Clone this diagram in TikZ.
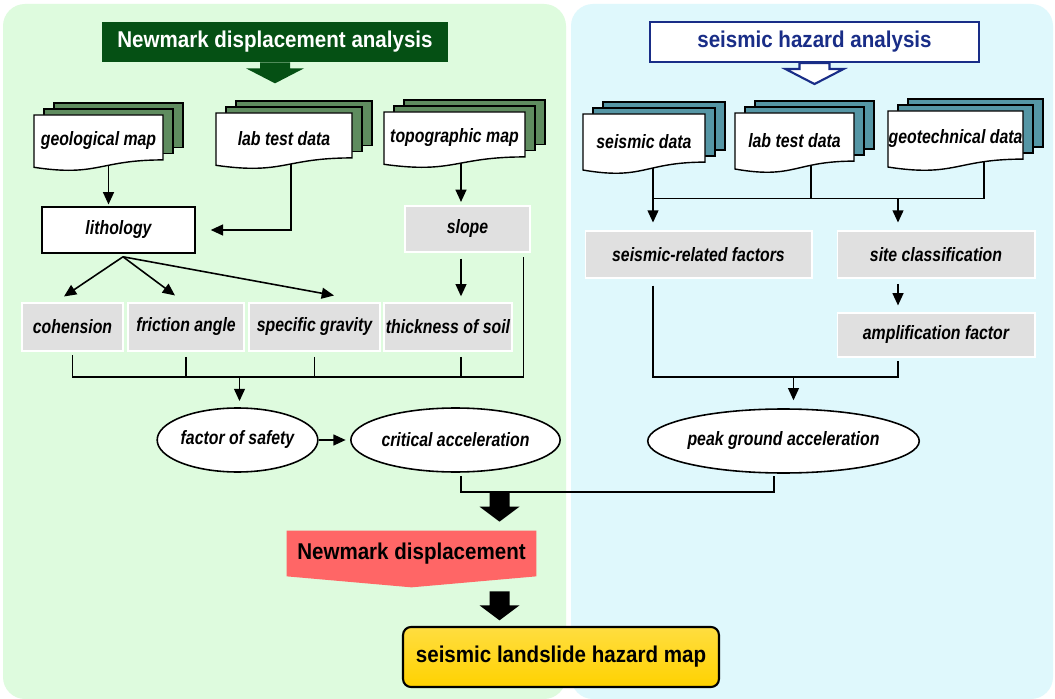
\documentclass[tikz,border=0pt]{standalone}
\usepackage{fontspec}
\setmainfont{Liberation Sans}[FakeStretch=0.9]
\newfontfamily\narrowsans{Liberation Sans}[FakeStretch=0.82]
\usepackage{tikz}
\usetikzlibrary{shapes.geometric, arrows.meta, calc}

\pgfdeclarelayer{bg}
\pgfdeclarelayer{mid}
\pgfsetlayers{bg,mid,main}

\definecolor{pgreen}{RGB}{222,251,222}
\definecolor{pblue}{RGB}{223,248,252}
\definecolor{dkgreen}{RGB}{5,80,20}
\definecolor{pagegreen}{RGB}{95,140,95}
\definecolor{pageteal}{RGB}{85,150,165}
\definecolor{boxgray}{RGB}{224,224,224}
\definecolor{dkblue}{RGB}{25,45,135}
\definecolor{nmred}{RGB}{255,102,102}
\definecolor{mapgold}{RGB}{255,210,0}

\tikzset{
	boxtxt/.style={font=\narrowsans\fontsize{11}{13}\selectfont\bfseries\itshape, inner sep=0pt},
	grbox/.style={boxtxt, rectangle, fill=boxgray, draw=white, line width=0.6pt, minimum height=0.96cm},
	whbox/.style={boxtxt, rectangle, fill=white, draw=black, line width=0.9pt},
	oval/.style={boxtxt, ellipse, fill=white, draw=black, line width=0.9pt, minimum height=1.28cm},
	docfront/.style={fill=white, draw=black, line width=0.8pt},
	docpage/.style={draw=black, line width=0.6pt},
	ttl/.style={font=\fontsize{13}{15}\selectfont\bfseries, inner sep=0pt, minimum height=0.8cm},
	arr/.style={-{Triangle[length=7pt,width=6.2pt]}},
	hdarrow/.pic={\path[pic actions] (-15,0) -- (-15,6) -- (-29,6) -- (0,21) -- (29,6) -- (15,6) -- (15,0) -- cycle;},
	blkarrow/.pic={\fill[black] (-10,0) -- (-10,14) -- (-20,14) -- (0,29) -- (20,14) -- (10,14) -- (10,0) -- cycle;}
}

% name, x0, y0, width, height, page colour, text
\newcommand{\docstack}[7]{%
	\foreach \dd in {2,1}{
		\draw[docpage, fill=#6] ({#2+10*\dd},{#3-6*\dd}) rectangle ({#2+#4+10*\dd},{#3-6*\dd+0.8*#5});
	}
	\draw[docfront] (#2,#3) -- ({#2+#4},#3) -- ({#2+#4},{#3+0.802*#5})
		.. controls ({#2+0.5*#4},{#3+0.802*#5}) and ({#2+0.5*#4},{#3+1.108*#5}) .. (#2,{#3+0.934*#5}) -- cycle;
	\node[boxtxt] (#1) at ({#2+0.5*#4},{#3+0.46*#5}) {#7};
}

\begin{document}
\begin{tikzpicture}[x=0.02cm, y=-0.02cm]
		\useasboundingbox (0,0) rectangle (1055,699);
		\begin{pgfonlayer}{bg}
			\fill[white] (0,0) rectangle (1055,699);
			\fill[pgreen, rounded corners=0.44cm] (3,4) rectangle (566,699);
			\fill[pblue, rounded corners=0.44cm] (571,4) rectangle (1053,699);
		\end{pgfonlayer}

		% titles
		\node[ttl, fill=dkgreen, text=white, minimum width=6.92cm] (ttlL) at (275,42) {Newmark displacement analysis};
		\pic[fill=dkgreen] at (ttlL.south) {hdarrow};
		\node[ttl, fill=white, draw=dkblue, line width=1.2pt, text=dkblue, minimum width=6.58cm] (ttlR) at (814.5,42) {seismic hazard analysis};
		\pic[fill=white, draw=dkblue, line width=1.2pt] at (ttlR.south) {hdarrow};

		% data sources
		\docstack{geo}{34}{115}{129}{56}{pagegreen}{geological map}
		\docstack{labL}{216}{113}{136}{56}{pagegreen}{lab test data}
		\docstack{topo}{384}{112}{141}{56}{pagegreen}{topographic map}
		\docstack{seis}{583}{114}{122}{60}{pageteal}{seismic data}
		\docstack{labR}{735}{113}{119}{60}{pageteal}{lab test data}
		\docstack{geot}{888}{111}{135}{60}{pageteal}{geotechnical data}

		% Newmark side
		\node[whbox, minimum width=3.06cm, minimum height=0.92cm] (lith) at (118.5,230) {lithology};
		\node[grbox, minimum width=2.5cm, minimum height=0.92cm] (slope) at (467.5,229) {slope};
		\node[grbox, minimum width=2.02cm] (coh) at (72.5,327) {cohension};
		\node[grbox, minimum width=2.32cm] (fric) at (186,327) {friction angle};
		\node[grbox, minimum width=2.62cm] (spec) at (314.5,327) {specific gravity};
		\node[grbox, minimum width=2.56cm] (thick) at (448,327) {thickness of soil};
		\node[oval, minimum width=3cm] (fos) at (237.5,440) {factor of safety};
		\node[oval, minimum width=4.14cm] (crit) at (455.5,440) {critical acceleration};

		% hazard side
		\node[grbox, minimum width=4.54cm, minimum height=0.94cm] (srf) at (698.5,254.5) {seismic-related factors};
		\node[grbox, minimum width=3.96cm, minimum height=0.94cm] (site) at (936,254.5) {site classification};
		\node[grbox, minimum width=3.96cm, minimum height=0.88cm] (amp) at (936,335) {amplification factor};
		\node[oval, minimum width=5.22cm] (pga) at (783.5,441) {peak ground acceleration};

		% results
		\node[ttl, minimum width=4.98cm, minimum height=0.9cm] (nm) at (411.5,553.5) {Newmark displacement};
		\node[ttl, rounded corners=0.16cm, draw=black, line width=1.2pt, top color=mapgold!75!white, bottom color=mapgold, minimum width=6.32cm, minimum height=1.2cm] (map) at (561,657) {seismic landslide hazard map};
		\pic at ($(nm.north)+(88,-38)$) {blkarrow};
		\pic at ($(nm.south)+(88,15)$) {blkarrow};

		\coordinate (geoC) at ($(geo)+(10,0)$);
		\coordinate (labC) at ($(labL)+(7,0)$);
		\coordinate (topoC) at ($(topo)+(6.5,0)$);
		\coordinate (slopeC) at ($(slope.south east)+(-7,0)$);
		\coordinate (split) at ($(lith.south)+(4.5,3)$);
		\coordinate (barL) at ($(fos.north)+(2,-30)$);
		\coordinate (barC) at ($(crit.south)+(5.5,19)$);
		\coordinate (seisC) at ($(seis)+(9,0)$);
		\coordinate (labRC) at ($(labR)+(16.5,0)$);
		\coordinate (geotC) at ($(geot)+(28.5,0)$);
		\coordinate (siteC) at ($(site)+(-38,0)$);
		\coordinate (barR) at ($(srf.north)+(-45.5,-32)$);
		\coordinate (barP) at ($(pga.north)+(10,-31)$);

		\begin{pgfonlayer}{mid}
			\fill[nmred] (nm.north west) -- (nm.north east) -- (nm.south east) -- ($(nm.south)+(0,11)$) -- (nm.south west) -- cycle;
			\begin{scope}[line width=0.9pt]
				% left
				\draw[arr, shorten >=1pt] (geoC) -- (geoC |- lith.north);
				\draw[arr, shorten >=8.5pt] (labC) |- (lith.east);
				\draw[arr, shorten >=2pt] (topoC) -- (topoC |- slope.north);
				\draw[arr] (split) -- ($(coh.north)+(-8.5,-6)$);
				\draw[arr] (split) -- ($(fric.north)+(-11,-7)$);
				\draw[arr] (split) -- ($(spec.north)+(19.5,-7)$);
				\draw[arr, shorten <=3.5pt, shorten >=3.5pt] (topoC |- slope.south) -- (topoC |- thick.north);
				\draw[shorten <=2pt] (coh.south) |- (barL -| slopeC) -- ($(slopeC)+(0,4)$);
				\draw[shorten <=3pt] (fric.south) -- (fric.south |- barL);
				\draw[shorten <=3pt] (spec.south) -- (spec.south |- barL);
				\draw[shorten <=3pt] (topoC |- thick.south) -- (topoC |- barL);
				\draw[arr, shorten >=3.5pt] (barL) -- (barL |- fos.north);
				\draw[arr, shorten >=2.5pt] (fos) -- (crit);
				\draw[shorten <=2pt, shorten >=1pt] (barC |- crit.south) -- (barC) -| ($(pga.south)+(-9.5,0)$);
				% right
				\draw (seisC) -- (barR);
				\draw (labRC) -- (labRC |- barR);
				\draw (geotC) |- (barR);
				\draw[arr, shorten >=4.5pt] (barR) -- (barR |- srf.north);
				\draw[arr, shorten >=4.5pt] (barR -| siteC) -- (siteC |- site.north);
				\draw[arr, shorten <=3pt, shorten >=4pt] (siteC |- site.south) -- (siteC |- amp.north);
				\draw[shorten <=4pt, shorten >=2pt] (barR |- srf.south) |- (barP -| siteC) -- (siteC |- amp.south);
				\draw[arr, shorten >=4.5pt] (barP) -- (barP |- pga.north);
			\end{scope}
		\end{pgfonlayer}
	\end{tikzpicture}
\end{document}
